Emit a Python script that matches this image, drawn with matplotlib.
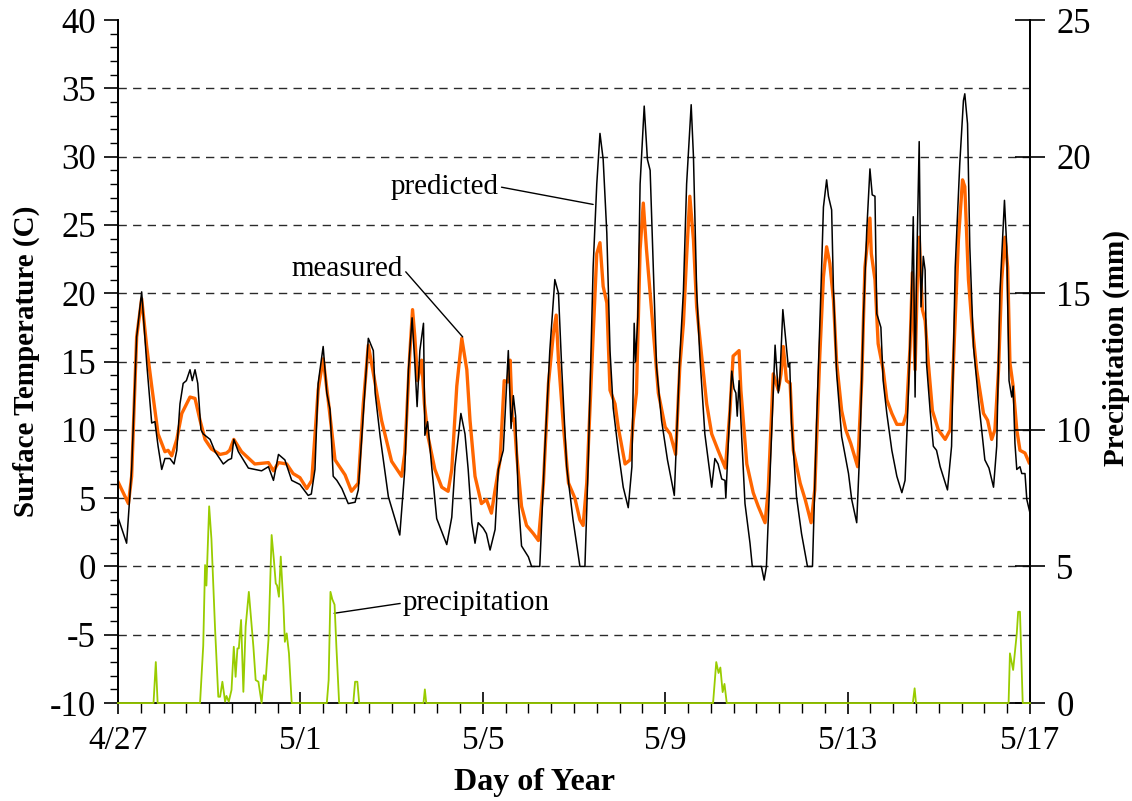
import matplotlib
matplotlib.use('Agg')
import matplotlib.pyplot as plt
from matplotlib.ticker import MultipleLocator, FixedLocator

plt.rcParams['font.family'] = ['Liberation Serif', 'DejaVu Serif']
plt.rcParams['axes.unicode_minus'] = False

# days since 4/27 00:00 and surface temperature (C)
pred_day = [
    0.00, 0.19, 0.30, 0.41, 0.52, 0.63, 0.74, 0.81, 0.88, 0.96, 1.03, 1.14, 1.23, 1.29,
    1.36, 1.43, 1.50, 1.58, 1.63, 1.69, 1.75, 1.82, 1.87, 2.02, 2.13, 2.31, 2.42, 2.49,
    2.54, 2.64, 2.86, 3.15, 3.30, 3.41, 3.52, 3.66, 3.81, 3.99, 4.17, 4.24, 4.32, 4.39,
    4.50, 4.58, 4.65, 4.72, 4.80, 4.91, 5.05, 5.20, 5.27, 5.38, 5.49, 5.60, 5.64, 5.75,
    5.93, 6.18, 6.29, 6.37, 6.45, 6.51, 6.56, 6.62, 6.70, 6.73, 6.79, 6.88, 6.99, 7.21,
    7.32, 7.39, 7.52, 7.61, 7.68, 7.76, 7.83, 7.90, 8.01, 8.08, 8.16, 8.27, 8.34, 8.45,
    8.56, 8.62, 8.67, 8.72, 8.78, 8.85, 9.00, 9.07, 9.25, 9.36, 9.47, 9.58, 9.66, 9.73,
    9.84, 9.98, 10.13, 10.24, 10.31, 10.42, 10.50, 10.57, 10.64, 10.72, 10.79, 10.86,
    10.97, 11.08, 11.19, 11.27, 11.32, 11.35, 11.40, 11.45, 11.54, 11.61, 11.67, 11.74,
    11.81, 11.92, 12.05, 12.20, 12.32, 12.40, 12.47, 12.57, 12.62, 12.69, 12.76, 12.87,
    13.02, 13.09, 13.16, 13.24, 13.31, 13.33, 13.42, 13.46, 13.51, 13.55, 13.58, 13.62,
    13.68, 13.75, 13.86, 13.91, 14.11, 14.17, 14.22, 14.30, 14.41, 14.48, 14.51, 14.58,
    14.65, 14.70, 14.73, 14.77, 14.88, 14.99, 15.12, 15.23, 15.32, 15.42, 15.47, 15.54,
    15.58, 15.65, 15.69, 15.76, 15.87, 16.02, 16.09, 16.20, 16.27, 16.35, 16.42, 16.49,
    16.54, 16.60, 16.64, 16.73, 16.78, 16.86, 16.97, 17.08, 17.19, 17.26, 17.33, 17.40,
    17.44, 17.48, 17.51, 17.57, 17.61, 17.66, 17.70, 17.73, 17.81, 17.88, 17.95, 18.03,
    18.19, 18.28, 18.36, 18.46, 18.54, 18.57, 18.63, 18.68, 18.76, 18.87, 19.01, 19.10,
    19.20, 19.27, 19.34, 19.44, 19.49, 19.54, 19.60, 19.63, 19.67, 19.71, 19.78, 19.82,
    19.89, 19.93, 20.00,
]
pred_temp = [
    3.6, 1.7, 7.1, 16.8, 20.1, 14.9, 10.5, 10.6, 8.8, 7.1, 7.9, 7.9, 7.5, 8.5,
    11.9, 13.4, 13.6, 14.4, 13.6, 14.4, 13.4, 10.0, 9.7, 9.3, 8.4, 7.5, 7.8, 7.9,
    9.3, 8.4, 7.2, 7.0, 7.3, 6.3, 8.2, 7.8, 6.3, 6.0, 5.2, 5.3, 7.1, 13.4,
    16.1, 12.7, 11.5, 6.6, 6.3, 5.7, 4.6, 4.7, 5.6, 11.2, 16.7, 15.8, 12.7, 9.5,
    5.1, 2.3, 7.1, 14.4, 18.2, 14.9, 11.7, 15.8, 17.8, 9.6, 10.6, 7.3, 3.5, 1.6,
    3.6, 7.3, 11.2, 9.7, 7.1, 3.2, 1.7, 3.2, 2.8, 2.4, 1.2, 2.7, 7.1, 8.5,
    15.8, 10.1, 12.5, 11.0, 4.9, 1.5, 0.7, 0.0, 0.0, 8.5, 15.8, 21.0, 20.0, 14.6,
    7.3, 3.4, 0.0, 0.0, 7.3, 21.9, 28.0, 31.7, 29.8, 24.4, 15.8, 11.6,
    8.5, 5.8, 4.3, 7.3, 17.8, 15.0, 18.3, 28.0, 33.7, 29.8, 29.0, 21.9,
    14.6, 10.7, 7.8, 5.2, 15.3, 20.2, 28.0, 33.8, 30.0, 20.2, 15.4, 9.7,
    5.8, 7.9, 7.5, 6.4, 6.3, 5.0, 11.7, 14.3, 13.0, 12.7, 11.0, 13.6,
    9.3, 4.6, 1.7, 0.0, 0.0, -1.0, 0.0, 6.8, 16.2, 12.7, 13.4, 18.8,
    16.3, 14.6, 14.9, 10.5, 5.1, 2.4, 0.0, 0.0, 10.5, 20.7, 26.3, 28.3,
    27.1, 26.1, 20.2, 14.1, 9.5, 6.8, 4.9, 3.2, 8.8, 18.5, 24.6, 29.1,
    27.2, 27.1, 18.5, 17.5, 13.6, 11.2, 8.5, 6.6, 5.4, 6.3, 12.4, 19.7,
    25.6, 12.4, 21.0, 31.1, 19.0, 22.7, 21.7, 14.9, 11.4, 8.8, 8.5, 7.3,
    5.6, 8.8, 21.9, 29.5, 34.1, 34.6, 32.4, 23.4, 16.1, 12.2, 7.8, 7.2,
    5.8, 8.8, 20.0, 26.8, 23.4, 13.6, 12.4, 13.2, 9.0, 7.1, 7.3, 6.8,
    6.8, 4.9, 3.9,
]

meas_day = [
    0.00, 0.23, 0.30, 0.41, 0.52, 0.63, 0.74, 0.88, 1.03, 1.10, 1.18, 1.29, 1.40, 1.58,
    1.69, 1.80, 1.91, 2.05, 2.24, 2.38, 2.45, 2.54, 2.71, 3.00, 3.30, 3.41, 3.52, 3.70,
    3.84, 3.99, 4.14, 4.25, 4.39, 4.50, 4.61, 4.76, 4.98, 5.12, 5.27, 5.38, 5.49, 5.64,
    5.78, 6.00, 6.22, 6.29, 6.40, 6.46, 6.51, 6.57, 6.66, 6.72, 6.80, 6.95, 7.10, 7.24,
    7.32, 7.43, 7.54, 7.65, 7.72, 7.83, 7.97, 8.08, 8.19, 8.27, 8.38, 8.47, 8.55, 8.60,
    8.65, 8.69, 8.74, 8.85, 8.96, 9.11, 9.22, 9.33, 9.44, 9.55, 9.61, 9.66, 9.77, 9.88,
    10.02, 10.13, 10.20, 10.28, 10.39, 10.50, 10.57, 10.64, 10.72, 10.79, 10.90, 10.97,
    11.12, 11.23, 11.30, 11.37, 11.45, 11.52, 11.59, 11.67, 11.78, 11.85, 12.00, 12.11,
    12.23, 12.32, 12.40, 12.47, 12.54, 12.62, 12.69, 12.80, 12.91, 13.02, 13.16, 13.32,
    13.42, 13.49, 13.62, 13.66, 13.79, 13.93, 14.04, 14.19, 14.26, 14.37, 14.48, 14.54,
    14.59, 14.66, 14.74, 14.81, 14.96, 15.07, 15.20, 15.28, 15.39, 15.47, 15.54, 15.61,
    15.69, 15.76, 15.87, 15.96, 16.07, 16.22, 16.31, 16.38, 16.49, 16.52, 16.60, 16.67,
    16.78, 16.86, 16.97, 17.08, 17.22, 17.29, 17.37, 17.42, 17.48, 17.53, 17.57, 17.64,
    17.70, 17.77, 17.86, 17.99, 18.14, 18.25, 18.32, 18.43, 18.52, 18.57, 18.65, 18.72,
    18.83, 18.98, 19.07, 19.16, 19.23, 19.31, 19.38, 19.45, 19.51, 19.56, 19.63, 19.71,
    19.78, 19.89, 19.98,
]
meas_temp = [
    6.2, 4.6, 6.6, 16.8, 19.6, 16.1, 13.2, 9.7, 8.4, 8.5, 8.1, 9.3, 11.2, 12.4,
    12.3, 10.7, 9.3, 8.6, 8.2, 8.3, 8.5, 9.3, 8.4, 7.5, 7.6, 7.0, 7.6, 7.5,
    6.8, 6.5, 5.7, 6.3, 12.9, 15.2, 12.2, 7.8, 6.7, 5.5, 6.1, 11.9, 16.2, 13.4,
    10.7, 7.7, 6.6, 8.3, 15.6, 18.8, 16.8, 13.6, 15.1, 11.9, 9.5, 7.1, 5.8, 5.5,
    7.1, 13.2, 16.7, 14.4, 10.7, 6.6, 4.6, 4.9, 3.9, 5.6, 7.8, 13.6, 13.5, 15.1,
    10.7, 10.8, 8.3, 4.4, 3.0, 2.4, 1.9, 6.1, 13.4, 17.1, 18.4, 15.1, 10.2, 6.1,
    5.0, 3.4, 3.0, 6.1, 14.6, 22.9, 23.7, 20.5, 19.3, 12.9, 11.9, 10.2,
    7.5, 7.8, 10.7, 12.7, 23.2, 26.6, 23.2, 20.0, 15.6, 12.7, 10.2, 9.7,
    8.2, 14.6, 17.8, 22.7, 27.1, 23.9, 19.0, 15.4, 11.9, 9.7, 8.5, 7.2,
    11.4, 15.4, 15.8, 12.9, 7.5, 5.4, 4.4, 3.2, 5.6, 14.1, 12.9, 14.1,
    16.1, 13.6, 13.4, 8.5, 6.1, 4.9, 3.2, 5.6, 15.4, 21.2, 23.4, 22.2,
    19.5, 14.9, 11.4, 10.0, 9.0, 7.3, 13.6, 21.9, 25.5, 22.9, 21.0, 16.3,
    14.4, 12.2, 11.2, 10.4, 10.4, 11.2, 16.1, 21.5, 14.4, 21.0, 24.1, 18.8,
    18.0, 14.9, 11.4, 10.0, 9.3, 10.0, 14.9, 23.9, 28.3, 27.8, 21.0, 18.0,
    14.4, 11.2, 10.7, 9.3, 10.0, 14.4, 21.0, 24.1, 21.9, 14.9, 13.2, 10.0,
    8.5, 8.3, 7.6,
]

# precipitation (mm) on the right axis
precip_day = [
    0.00, 0.78, 0.83, 0.87, 1.80, 1.87, 1.91, 1.94, 2.00, 2.05, 2.13, 2.20, 2.24, 2.29,
    2.35, 2.38, 2.43, 2.49, 2.54, 2.58, 2.62, 2.65, 2.70, 2.75, 2.80, 2.87, 2.97, 3.02,
    3.08, 3.15, 3.20, 3.24, 3.30, 3.37, 3.42, 3.46, 3.49, 3.53, 3.57, 3.63, 3.66, 3.70,
    3.75, 3.81, 4.58, 4.62, 4.66, 4.70, 4.75, 4.79, 4.85, 5.16, 5.20, 5.25, 5.29, 6.70,
    6.73, 6.76, 13.05, 13.12, 13.17, 13.21, 13.26, 13.30, 13.35, 17.43, 17.47, 17.50,
    19.53, 19.56, 19.63, 19.71, 19.74, 19.78, 19.84, 20.00,
]
precip_mm = [
    0.0, 0.0, 1.5, 0.0, 0.0, 2.1, 5.05, 4.3, 7.2, 6.0, 2.7, 0.23, 0.23, 0.78,
    0.05, 0.26, 0.05, 0.48, 2.06, 0.96, 2.0, 2.0, 3.04, 0.41, 2.8, 4.07, 2.06, 0.84,
    0.78, 0.0, 1.02, 0.84, 2.31, 6.15, 5.23, 4.38, 4.3, 3.89, 5.36, 3.53, 2.24, 2.55,
    1.82, 0.0, 0.0, 0.84, 4.07, 3.8, 3.6, 2.06, 0.0, 0.0, 0.78, 0.78, 0.0, 0.0,
    0.5, 0.0, 0.0, 1.5, 1.1, 1.3, 0.4, 0.7, 0.0, 0.0, 0.54, 0.0,
    0.0, 1.82, 1.21, 2.55, 3.34, 3.34, 0.0, 0.0,
]

date_ticks = [0, 4, 8, 12, 16, 20]
date_labels = ['4/27', '5/1', '5/5', '5/9', '5/13', '5/17']
grid_levels = [-5, 0, 5, 10, 15, 20, 25, 30, 35]

fig = plt.figure(figsize=(11.32, 8.01), dpi=100)
ax = fig.add_axes([0.1042, 0.1223, 0.8057, 0.8527])
ax2 = ax.twinx()

for lvl in grid_levels:
    ax.axhline(lvl, color='#2a2a2a', lw=1.0, ls=(0, (6, 4.5)), zorder=0)

ax.plot(meas_day, meas_temp, color='#ff6600', lw=2.4, zorder=2)
ax.plot(pred_day, pred_temp, color='black', lw=1.1, zorder=3)
ax2.plot(precip_day, precip_mm, color='#99cc00', lw=1.3, zorder=4, clip_on=False)

ax.set_xlim(0, 20)
ax.set_ylim(-10, 40)
ax2.set_ylim(0, 25)

ax.xaxis.set_major_locator(FixedLocator(date_ticks))
ax.set_xticklabels(date_labels)
ax.xaxis.set_minor_locator(MultipleLocator(0.5))
ax.yaxis.set_major_locator(MultipleLocator(5))
ax.yaxis.set_minor_locator(MultipleLocator(1))
ax2.yaxis.set_major_locator(MultipleLocator(5))

for a in (ax, ax2):
    a.spines['top'].set_visible(False)
    for s in ('left', 'right', 'bottom'):
        a.spines[s].set_linewidth(1.3)
ax2.spines['bottom'].set_visible(False)

ax.tick_params(axis='y', which='major', direction='out', length=10, width=1.2, labelsize=25, pad=6)
ax.tick_params(axis='y', which='minor', direction='out', length=6, width=1.0)
ax.tick_params(axis='x', which='major', direction='inout', length=16, width=1.2, labelsize=24, pad=8)
ax.tick_params(axis='x', which='minor', direction='out', length=7, width=1.0)
ax2.tick_params(axis='y', which='major', direction='inout', length=22, width=1.2, labelsize=25, pad=8)

ax.set_ylabel('Surface Temperature (C)', fontsize=21, fontweight='bold')
ax.yaxis.set_label_coords(-0.086, 0.5)
ax2.set_ylabel('Precipitation (mm)', fontsize=21, fontweight='bold')
ax2.yaxis.set_label_coords(1.080, 0.52)
ax.set_xlabel('Day of Year', fontsize=23, fontweight='bold')
ax.xaxis.set_label_coords(0.457, -0.116)
ax.xaxis.label.set_va('center')

ax.annotate('predicted', xy=(10.42, 26.5), xytext=(8.35, 27.8), fontsize=21,
            ha='right', va='center',
            arrowprops=dict(arrowstyle='-', color='black', lw=1.0, shrinkA=0, shrinkB=0,
                            relpos=(1.0, 0.5)))
ax.annotate('measured', xy=(7.56, 16.8), xytext=(6.25, 21.8), fontsize=21,
            ha='right', va='center',
            arrowprops=dict(arrowstyle='-', color='black', lw=1.0, shrinkA=0, shrinkB=0,
                            relpos=(1.0, 0.5)))
ax.annotate('precipitation', xy=(4.74, -3.43), xytext=(6.25, -2.68), fontsize=21,
            ha='left', va='center',
            arrowprops=dict(arrowstyle='-', color='black', lw=1.0, shrinkA=0, shrinkB=0,
                            relpos=(0.0, 0.5)))

fig.savefig('out.png', dpi=100)
